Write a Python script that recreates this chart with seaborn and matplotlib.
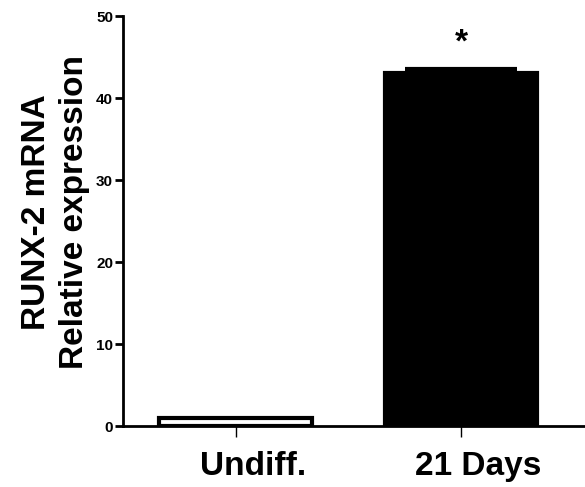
import matplotlib
matplotlib.use("Agg")
import matplotlib.pyplot as plt
import matplotlib.transforms as mtransforms
import seaborn as sns
import pandas as pd

groups = ["Undiff.", "21 Days"]
means = [1.0, 43.0]
sems = [0.0, 0.6]
fills = ["white", "black"]

sns.set_style("ticks")
plt.rcParams["font.family"] = ["Liberation Sans", "DejaVu Sans"]
plt.rcParams["text.color"] = "black"
plt.rcParams["xtick.color"] = "black"
plt.rcParams["ytick.color"] = "black"
plt.rcParams["axes.edgecolor"] = "black"
plt.rcParams["axes.labelcolor"] = "black"

df = pd.DataFrame({"group": groups, "value": means})

fig = plt.figure(figsize=(5.85, 4.87), dpi=100)
ax = fig.add_axes([0.21, 0.125, 0.79, 0.842])

sns.barplot(data=df, x="group", y="value", hue="group", palette=fills,
            width=0.675, errorbar=None, legend=False, ax=ax,
            edgecolor="black", linewidth=3)

# SEM bars, only the upper half like in the original
for i, (m, s) in enumerate(zip(means, sems)):
    if s > 0:
        ax.errorbar(i, m, yerr=[[0], [s]], fmt="none", ecolor="black",
                    elinewidth=2, capsize=40, capthick=3)

ax.text(1, 44.8, "*", ha="center", va="bottom", fontsize=24, fontweight="bold")

ax.set_ylim(0, 50)
ax.set_xlim(-0.5, 1.55)
ax.set_yticks([0, 10, 20, 30, 40, 50])
ax.set_xlabel("")
ax.set_ylabel("RUNX-2 mRNA\nRelative expression", fontsize=24, fontweight="bold",
              linespacing=1.3)
ax.yaxis.set_label_coords(-0.07, 0.522)

sns.despine(ax=ax)
for sp in ["left", "bottom"]:
    ax.spines[sp].set_linewidth(2)
ax.tick_params(axis="y", length=6, width=2, labelsize=11, pad=1)
ax.tick_params(axis="x", length=8, width=1, labelsize=24, pad=10)
shift = mtransforms.ScaledTranslation(0.17, 0, fig.dpi_scale_trans)
for lab in ax.get_xticklabels():
    lab.set_fontweight("bold")
    lab.set_transform(lab.get_transform() + shift)
for lab in ax.get_yticklabels():
    lab.set_fontweight("bold")

fig.savefig("out.png", dpi=100)
